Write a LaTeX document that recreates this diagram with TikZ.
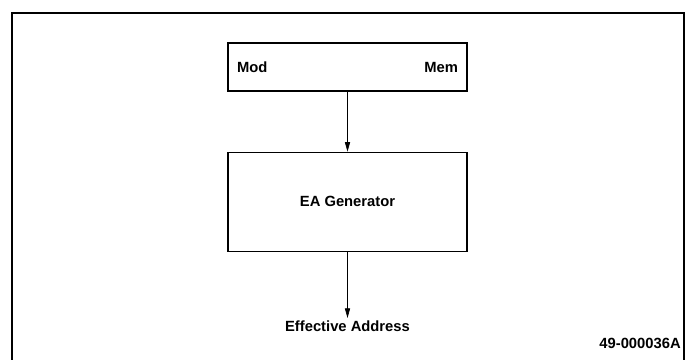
\documentclass[tikz,border=0pt]{standalone}
\usepackage{fontspec}
\setsansfont{Liberation Sans}
\usepackage{tikz}
\usetikzlibrary{arrows.meta, positioning}

\begin{document}
\begin{tikzpicture}[x=0.025cm, y=-0.025cm,
	font=\sffamily\bfseries\fontsize{10.5}{12}\selectfont,
	node distance=1.5cm,
	blockbox/.style={draw, line width=0.9pt, minimum width=5.975cm, inner sep=0pt},
	flow/.style={-{Triangle[length=2.4mm, width=1.3mm]}, line width=0.5pt}]
					\useasboundingbox (0,0) rectangle (690,360);
					% Outer frame
					\draw[line width=1.1pt] (12,362) -- (12,13) -- (684,13) -- (684,362);
					% Mod / Mem block
					\node[blockbox,
					minimum height=1.2cm] (modmem) at (347.5,67) {};
					\node[anchor=west] (mod) at ([xshift=0.12cm]modmem.west) {Mod};
					\node[anchor=east] (mem) at ([xshift=-0.12cm]modmem.east) {Mem};
					% EA generator block
					\node[blockbox,
					below=of modmem,
					minimum height=2.475cm] (eagen) {EA Generator};
					% Output label
					\node[below=1.65cm of eagen, inner sep=2pt] (effaddr) {Effective Address};
					% Figure number
					\node[anchor=south east, inner sep=0pt] (fignum) at (681,349) {49-000036A};
					% Arrows
					\draw[flow] (modmem) -- (eagen);
					\draw[flow] (eagen) -- (effaddr);
\end{tikzpicture}
\end{document}
